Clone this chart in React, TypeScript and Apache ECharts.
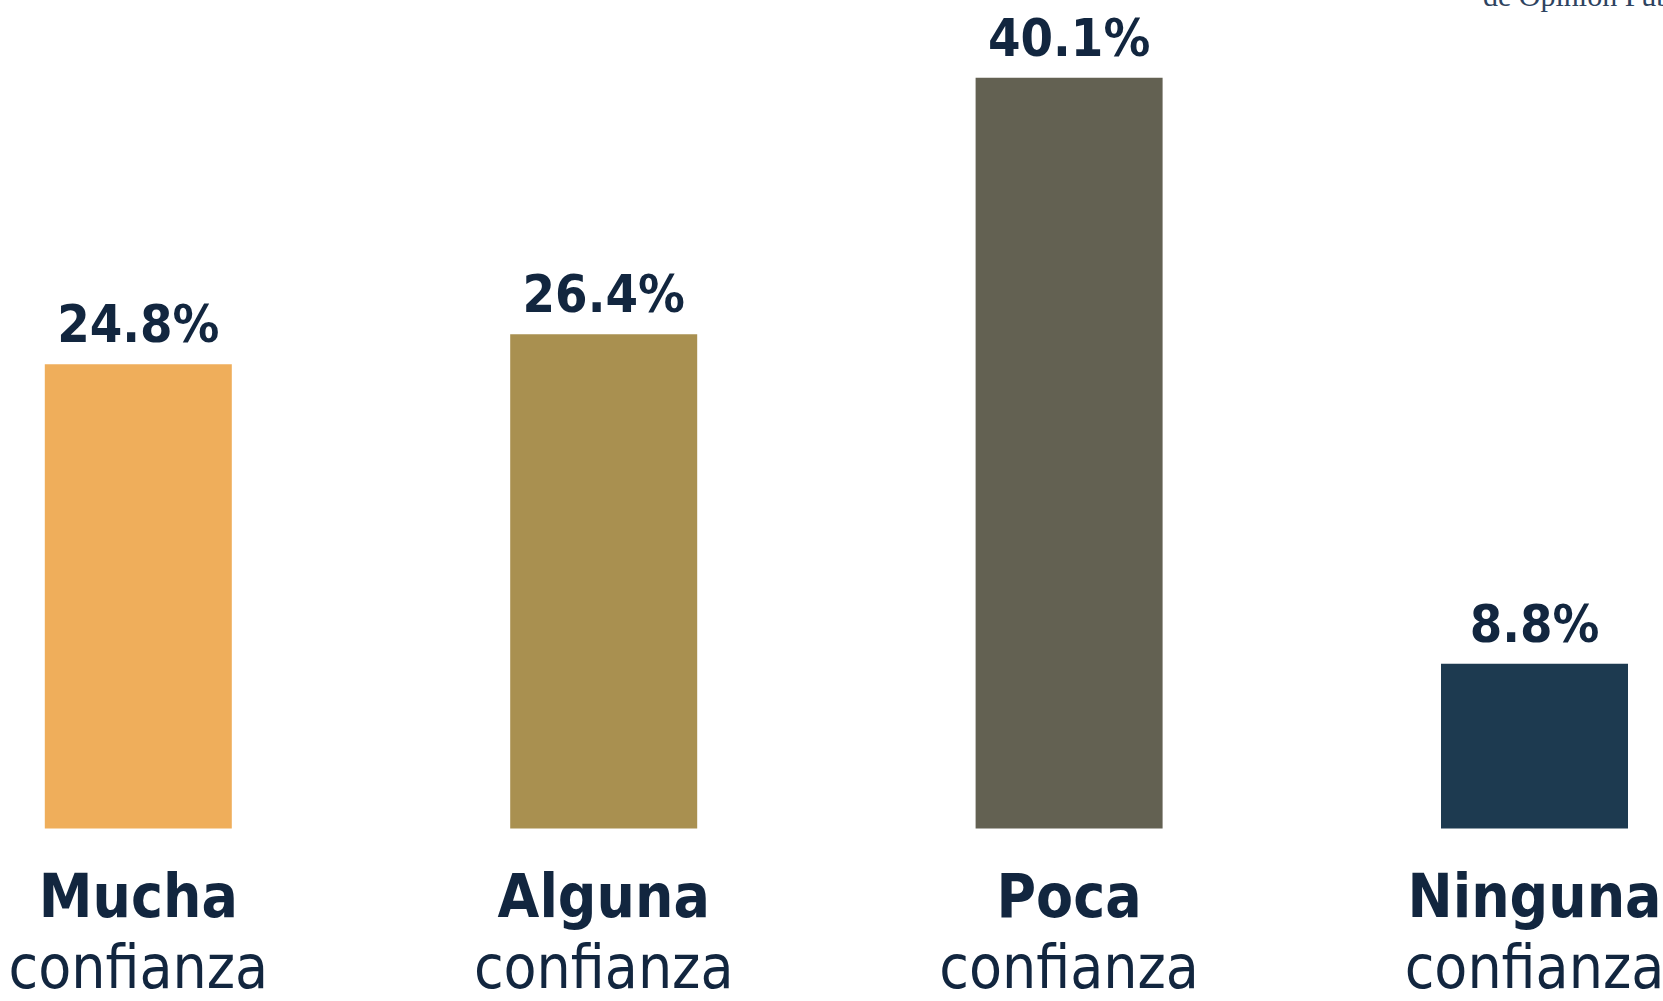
import React, { useEffect, useRef } from "react";
import * as echarts from "echarts";

const categories = ["Mucha", "Alguna", "Poca", "Ninguna"];
const subLabel = "confianza";
const values = [24.8, 26.4, 40.1, 8.8];
const barColors = ["#EFAE5B", "#A99050", "#636152", "#1D3A50"];
const sourceText = "de Opinión Pública";

const TEXT = "#12263F";
const NARROW = '"DejaVu Sans Condensed", "Liberation Sans Narrow", "Roboto", sans-serif';

export default function App() {
  const ref = useRef<HTMLDivElement>(null);
  useEffect(() => {
    if (!ref.current) return;
    const chart = echarts.init(ref.current, null, { renderer: "svg" });
    chart.setOption({
      animation: false,
      backgroundColor: "#ffffff",
      grid: {
        left: 138.3,
        right: 128.5,
        top: 0,
        bottom: 172.5,
        containLabel: false,
        outerBoundsMode: "none",
      },
      xAxis: {
        type: "category",
        data: categories,
        boundaryGap: false,
        axisLine: { show: false },
        axisTick: { show: false },
        splitLine: { show: false },
        axisLabel: {
          margin: 28,
          interval: 0,
          hideOverlap: false,
          formatter: (v: string) => `{b|${v}}\n{r|${subLabel}}`,
          rich: {
            b: { fontFamily: NARROW, fontWeight: "bold", fontSize: 60, lineHeight: 78, color: TEXT },
            r: { fontFamily: NARROW, fontWeight: "normal", fontSize: 60, lineHeight: 64, color: TEXT },
          },
        },
      },
      yAxis: {
        type: "value",
        min: 0,
        max: 44.25,
        show: false,
        splitLine: { show: false },
      },
      graphic: [
        {
          type: "text",
          left: 1483,
          top: -20,
          style: {
            text: sourceText,
            fontFamily: '"Liberation Serif", "DejaVu Serif", serif',
            fontSize: 30,
            fill: "#2e4360",
          },
        },
      ],
      series: [
        {
          type: "bar",
          barWidth: 187,
          data: values.map((v, i) => ({ value: v, itemStyle: { color: barColors[i] } })),
          label: {
            show: true,
            position: "top",
            distance: 14,
            formatter: (p: any) => `${p.value.toFixed(1)}%`,
            fontFamily: NARROW,
            fontWeight: "bold",
            fontSize: 52,
            lineHeight: 52,
            color: TEXT,
          },
        },
      ],
    });
    return () => chart.dispose();
  }, []);
  return <div ref={ref} style={{ position: "absolute", left: 0, top: 0, width: 1663, height: 1001 }} />;
}
